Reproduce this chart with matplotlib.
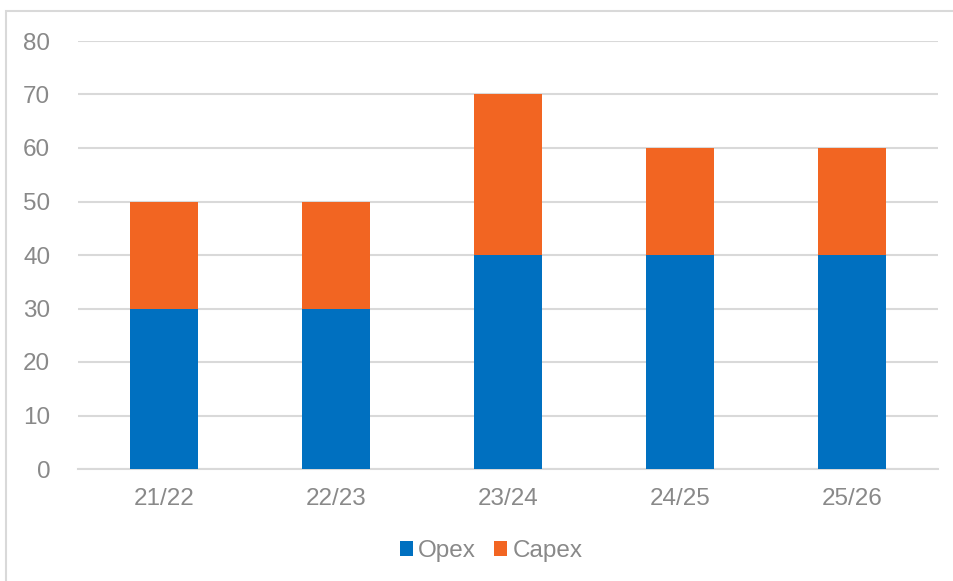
import matplotlib.pyplot as plt
from matplotlib.patches import Rectangle

# financial years and spend split
years = ["21/22", "22/23", "23/24", "24/25", "25/26"]
opex = [30, 30, 40, 40, 40]
capex = [20, 20, 30, 20, 20]

blue = "#0070C0"
orange = "#F26522"
grey_text = "#898989"
grid_col = "#D9D9D9"

plt.rcParams["font.family"] = ["Liberation Sans", "DejaVu Sans"]

fig = plt.figure(figsize=(9.54, 5.81), dpi=100)
ax = fig.add_axes([78 / 954, 1 - 469 / 581, 860 / 954, 428 / 581])

x = range(len(years))
ax.bar(x, opex, width=0.4, color=blue, label="Opex", zorder=3)
ax.bar(x, capex, width=0.4, bottom=opex, color=orange, label="Capex", zorder=3)

ax.set_xlim(-0.5, len(years) - 0.5)
ax.set_ylim(0, 80)
ax.set_yticks(range(0, 81, 10))
ax.set_xticks(list(x))
ax.set_xticklabels(years)
ax.grid(axis="y", color=grid_col, linewidth=1.5, zorder=0)
ax.tick_params(axis="both", length=0, labelsize=17.5, labelcolor=grey_text)
ax.tick_params(axis="y", pad=20)
ax.tick_params(axis="x", pad=14)
for side in ["top", "right", "left"]:
    ax.spines[side].set_visible(False)
ax.spines["bottom"].set_color(grid_col)
ax.spines["bottom"].set_linewidth(1.5)

leg = fig.legend(loc="center", bbox_to_anchor=(491 / 954, 1 - 551 / 581), ncol=2,
                 frameon=False, fontsize=17.5, handlelength=0.55, handleheight=0.55,
                 handletextpad=0.2, columnspacing=0.75)
for t in leg.get_texts():
    t.set_color(grey_text)

# outer chart frame
fig.patches.append(Rectangle((6.5 / 954, -0.1), 1.0, 1 - 11 / 581 + 0.1,
                             transform=fig.transFigure, fill=False,
                             edgecolor=grid_col, linewidth=1.5))

fig.savefig("out.png", dpi=100)
